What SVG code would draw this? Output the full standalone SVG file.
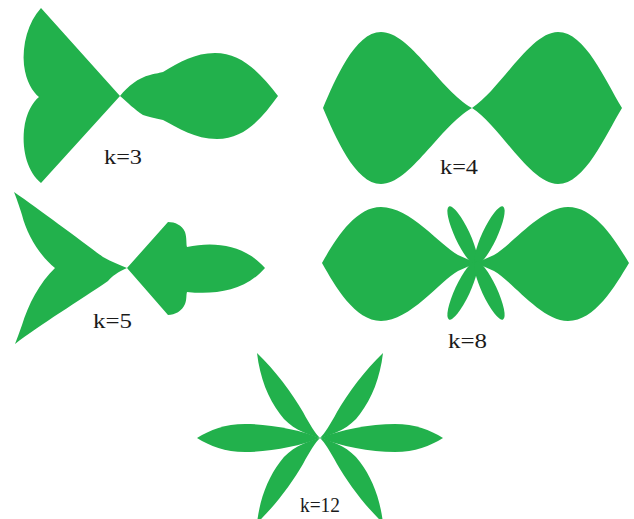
<svg xmlns="http://www.w3.org/2000/svg" width="634" height="519" viewBox="0 0 634 519">
<style>
.g{fill:#22B14C;stroke:none}
.lbl{font-family:"Liberation Serif","Times New Roman",serif;font-size:20px;fill:#1a1a1a}
</style>
<rect width="634" height="519" fill="#ffffff"/>
<g id="k3">
<path class="g" d="M41,8 L120,96 L41,183 C28,172 22,152 24,130 C26,112 33,102 39,97 C33,92 26,82 24,65 C22,45 28,22 41,8 Z"/>
<path class="g" d="M120,96 C128,86 138,78 150,75 C157,73 160,73 163,72 C180,62 195,53 215,53 C240,53 258,70 278,96 C262,118 245,139 217,139 C195,139 178,128 163,120 C155,118 148,117 143,115 C135,110 127,102 120,96 Z"/>
<text class="lbl" x="104" y="164" textLength="38" lengthAdjust="spacingAndGlyphs">k=3</text>
</g>
<g id="k4">
<path class="g" d="M323,108 C335,80 355,32 381,32 C410,32 440,90 472,108 C440,126 410,184 381,184 C355,184 335,136 323,108 Z"/>
<path class="g" d="M472,108 C500,90 530,32 558,32 C585,32 605,80 622,108 C605,136 585,184 558,184 C530,184 500,126 472,108 Z"/>
<text class="lbl" x="440" y="174" textLength="38" lengthAdjust="spacingAndGlyphs">k=4</text>
</g>
<g id="k5">
<path class="g" d="M14,192 C40,210 80,240 103,257 C112,262 120,265 127,268 C118,272 112,276 108,281 C80,300 40,325 15,344 C17,339 19,333 22,325 C28,305 40,282 55,268 C40,256 27,235 22,215 C19,205 16,197 14,192 Z"/>
<path class="g" d="M127,268 L168,222 C175,222 182,225 185,232 C187,238 186,244 187,247 C215,241 245,245 265,268 C245,291 215,295 187,292 C186,295 187,299 185,304 C182,311 175,315 168,315 Z"/>
<text class="lbl" x="93" y="328" textLength="39" lengthAdjust="spacingAndGlyphs">k=5</text>
</g>
<g id="k8">
<path class="g" d="M322,263 C335,240 355,207 381,207 C410,207 440,245 458,255 L476,263 L458,271 C440,281 410,321 381,321 C355,321 335,286 322,263 Z"/>
<path class="g" d="M476,263 L494,255 C512,245 541,207 568,207 C595,207 615,240 629,263 C615,286 595,321 568,321 C541,321 512,281 494,271 Z"/>
<ellipse class="g" cx="462.5" cy="235.5" rx="32" ry="7.5" transform="rotate(65 462.5 235.5)"/>
<ellipse class="g" cx="489.5" cy="235.5" rx="32" ry="7.5" transform="rotate(-65 489.5 235.5)"/>
<ellipse class="g" cx="462.5" cy="290.5" rx="32" ry="7.5" transform="rotate(-65 462.5 290.5)"/>
<ellipse class="g" cx="489.5" cy="290.5" rx="32" ry="7.5" transform="rotate(65 489.5 290.5)"/>
<text class="lbl" x="448" y="348" textLength="39" lengthAdjust="spacingAndGlyphs">k=8</text>
</g>
<g id="k12">
<path class="g" d="M320,438 C300,430 270,424 245,424 C225,424 210,430 197,438 C210,446 225,452 245,452 C270,452 300,446 320,438 Z"/>
<path class="g" transform="translate(640,0) scale(-1,1)" d="M320,438 C300,430 270,424 245,424 C225,424 210,430 197,438 C210,446 225,452 245,452 C270,452 300,446 320,438 Z"/>
<path class="g" d="M257,353 C275,370 292,393 303,412 C310,425 315,433 320,438 C305,434 290,428 280,414 C268,398 260,378 257,353 Z"/>
<path class="g" transform="translate(640,0) scale(-1,1)" d="M257,353 C275,370 292,393 303,412 C310,425 315,433 320,438 C305,434 290,428 280,414 C268,398 260,378 257,353 Z"/>
<path class="g" transform="translate(0,876) scale(1,-1)" d="M257,353 C275,370 292,393 303,412 C310,425 315,433 320,438 C305,434 290,428 280,414 C268,398 260,378 257,353 Z"/>
<path class="g" transform="translate(640,876) scale(-1,-1)" d="M257,353 C275,370 292,393 303,412 C310,425 315,433 320,438 C305,434 290,428 280,414 C268,398 260,378 257,353 Z"/>
<text class="lbl" x="300" y="512" textLength="40" lengthAdjust="spacingAndGlyphs">k=12</text>
</g>
</svg>
